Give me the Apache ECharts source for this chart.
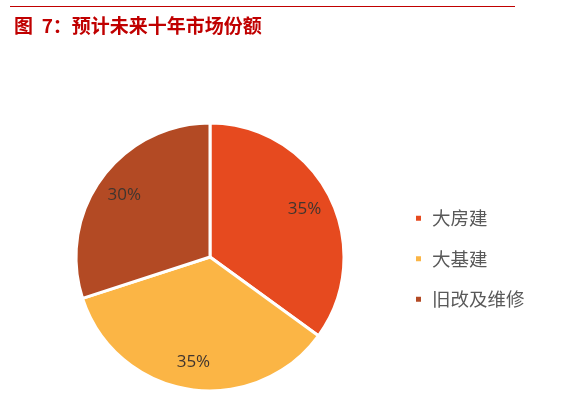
<!DOCTYPE html>
<html>
<head>
<meta charset="utf-8">
<script src="https://cdn.jsdelivr.net/npm/echarts@6/dist/echarts.min.js"></script>
<style>
html,body{margin:0;padding:0;background:#fff;}
#c{width:568px;height:399px;}
</style>
</head>
<body>
<div id="c"></div>
<script>
const titleText = '图  7：预计未来十年市场份额';
const categories = ['大房建', '大基建', '旧改及维修'];
const shares = [35, 35, 30];
const colors = ['#E64A1F', '#FBB545', '#B34A24'];

const pieData = categories.map((n, i) => ({ name: n, value: shares[i], itemStyle: { color: colors[i] } }));

const chart = echarts.init(document.getElementById('c'), null, { renderer: 'canvas' });
chart.setOption({
  backgroundColor: '#fff',
  animation: false,
  graphic: [
    { type: 'line', shape: { x1: 10, y1: 6.5, x2: 515, y2: 6.5 }, style: { stroke: '#C00000', lineWidth: 1.2 } },
    { type: 'text', left: 14, top: 16, style: { text: titleText, fill: '#C00000', font: 'bold 19px "Noto Sans CJK SC", sans-serif' } }
  ],
  legend: {
    orient: 'vertical',
    left: 409,
    top: 204,
    data: categories,
    icon: 'rect',
    itemWidth: 7,
    itemHeight: 7,
    itemGap: 22,
    textStyle: { fontSize: 18.5, lineHeight: 18, color: '#595959', padding: [0, 0, 0, 5], fontFamily: '"Noto Sans CJK SC", sans-serif' }
  },
  series: [
    {
      type: 'pie',
      center: [210, 257],
      radius: [0, 134],
      startAngle: 90,
      clockwise: true,
      data: pieData,
      itemStyle: { borderColor: '#fff', borderWidth: 3 },
      label: { show: false },
      labelLine: { show: false },
      emphasis: { disabled: true }
    },
    {
      type: 'pie',
      center: [210, 257],
      radius: [72, 134],
      startAngle: 90,
      clockwise: true,
      silent: true,
      legendHoverLink: false,
      data: pieData.map(d => ({ name: d.name, value: d.value, itemStyle: { color: 'rgba(0,0,0,0)', borderWidth: 0 } })),
      label: {
        show: true,
        position: 'inside',
        formatter: '{d}%',
        fontSize: 17,
        color: '#40352f',
        fontFamily: '"Open Sans", "Liberation Sans", sans-serif'
      },
      labelLine: { show: false },
      emphasis: { disabled: true }
    }
  ]
});
</script>
</body>
</html>
